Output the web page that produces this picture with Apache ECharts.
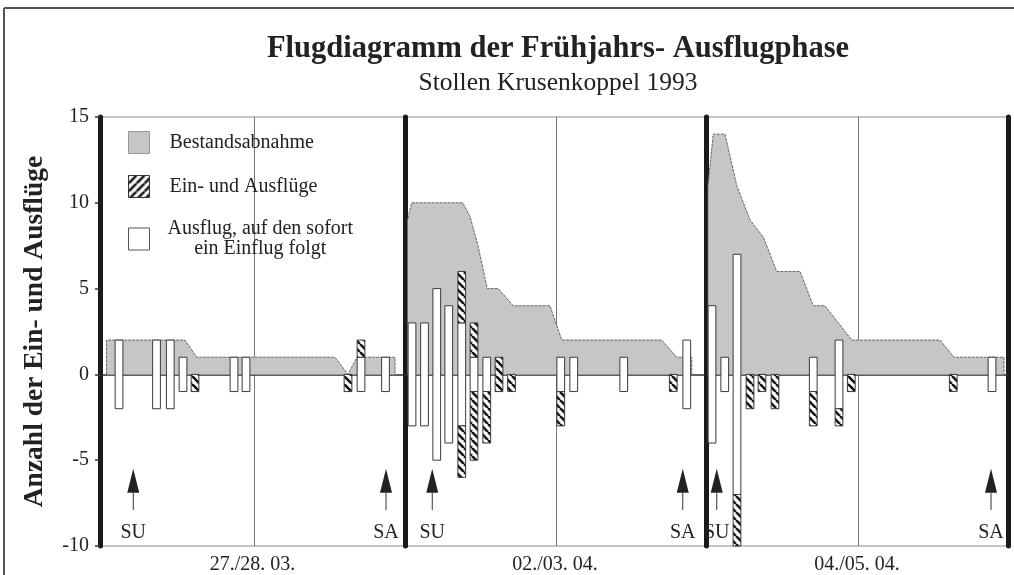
<!DOCTYPE html>
<html><head><meta charset="utf-8">
<script src="https://cdn.jsdelivr.net/npm/echarts@6/dist/echarts.min.js"></script>
<style>html,body{margin:0;padding:0;background:#fff}#c{width:1014px;height:575px}</style>
</head><body><div id="c"></div>
<script>
// ---- DATA (x = hours relative to midnight, y = number of bats) ----
const panelDates = ['27./28. 03.', '02./03. 04.', '04./05. 04.'];
const seriesNames = ['Bestandsabnahme', 'Ein- und Ausflüge', 'Ausflug, auf den sofort\nein Einflug folgt'];

// Bestandsabnahme (stock outline) per night
const stock1 = [[-5.9,0],[-5.9,2],[-2.76,2],[-2.29,1],[3.24,1],[3.76,0],[4.12,1],[5.64,1],[5.64,0]];
const stock2 = [[-5.94,0],[-5.94,9],[-5.77,10],[-3.73,10],[-3.44,9.2],[-3.12,7.5],[-2.75,5],[-2.31,5],[-1.71,4],[-0.24,4],[0.23,2],[4.23,2],[4.83,1],[5.43,1],[5.43,0]];
const stock3 = [[-6.0,0],[-6.0,11],[-5.79,14],[-5.32,14],[-4.85,11],[-4.32,9],[-3.79,8],[-3.25,6],[-2.32,6],[-1.79,4],[-1.32,4],[-0.25,2],[3.28,2],[3.84,1],[5.84,1],[5.84,0]];

// White bars: [hour, from, to]  (Ausflug, auf den sofort ein Einflug folgt)
const white1 = [[-5.4,-2,2],[-3.9,-2,2],[-3.35,-2,2],[-2.84,-1,1],[-0.8,-1,1],[-0.32,-1,1],[4.28,-1,1],[5.26,-1,1]];
const white2 = [[-5.76,-3,3],[-5.26,-3,3],[-4.77,-5,5],[-4.29,-4,4],[-3.77,-3,3],[-3.28,-1,1],[-2.77,-1,1],[0.19,-1,1],[0.71,-1,1],[2.71,-1,1],[5.23,-2,2]];
const white3 = [[-5.84,-4,4],[-5.33,-1,1],[-4.84,-7,7],[-1.79,-1,1],[-0.76,-2,2],[5.36,-1,1]];

// Hatched bars: [hour, from, to]  (Ein- und Ausflüge)
const hatch1 = [[-2.36,-1,0],[3.76,-1,0],[4.28,1,2]];
const hatch2 = [[-3.77,3,6],[-3.77,-6,-3],[-3.28,1,3],[-3.28,-5,-1],[-2.77,-4,-1],[-2.28,-1,1],[-1.78,-1,0],[0.19,-3,-1],[4.69,-1,0]];
const hatch3 = [[-4.84,-10,-7],[-4.32,-2,0],[-3.84,-1,0],[-3.32,-2,0],[-1.79,-3,-1],[-0.76,-3,-2],[-0.27,-1,0],[3.81,-1,0]];

// Sunset / sunrise arrows: [hour]
const sun1 = [[-4.83],[5.28]];
const sun2 = [[-4.95],[5.07]];
const sun3 = [[-5.65],[5.32]];
const sunLabels = ['SU', 'SA'];

const yMin = -10, yMax = 15, yStep = 5;

// ---- STYLE ----
const SERIF = '"Liberation Serif", "DejaVu Serif", serif';
const INK = '#222';
const GRAY = '#c6c6c6';
const BAR_W = 0.31;

function makeHatch(forward) {
  const s = 8, c = document.createElement('canvas');
  c.width = s; c.height = s;
  const g = c.getContext('2d');
  g.fillStyle = '#fff'; g.fillRect(0, 0, s, s);
  g.strokeStyle = '#151515'; g.lineWidth = 2.6;
  for (let k = -1; k <= 1; k++) {
    g.beginPath();
    if (forward) { g.moveTo(k * s, s); g.lineTo(k * s + s, 0); }
    else { g.moveTo(k * s, 0); g.lineTo(k * s + s, s); }
    g.stroke();
  }
  return c;
}
const hatchFill = { image: makeHatch(false), repeat: 'repeat' };
const hatchLegend = { image: makeHatch(true), repeat: 'repeat' };

const chart = echarts.init(document.getElementById('c'), null, { renderer: 'canvas' });

const grids = [
  { left: 100, width: 305, min: -6.16, max: 6.04 },
  { left: 405, width: 300, min: -6.04, max: 5.96 },
  { left: 706, width: 302, min: -6.08, max: 6.0 }
];
const stocks = [stock1, stock2, stock3];
const whites = [white1, white2, white3];
const hatches = [hatch1, hatch2, hatch3];
const suns = [sun1, sun2, sun3];

function barRender(fill) {
  return function (params, api) {
    const x = api.value(0), y0 = api.value(1), y1 = api.value(2);
    const top = api.coord([x, Math.max(y0, y1)]);
    const bot = api.coord([x, Math.min(y0, y1)]);
    const w = api.size([BAR_W, 0])[0];
    return {
      type: 'rect',
      shape: { x: top[0] - w / 2, y: top[1], width: w, height: bot[1] - top[1] },
      style: { fill: fill, stroke: '#3a3a3a', lineWidth: 1 }
    };
  };
}
function arrowRender(params, api) {
  const x = api.value(0);
  const tip = api.coord([x, -5.5]);
  const base = api.coord([x, -6.9]);
  const tail = api.coord([x, -7.9]);
  const txt = api.coord([x, -9.25]);
  return {
    type: 'group',
    children: [
      { type: 'line', shape: { x1: tip[0], y1: base[1], x2: tip[0], y2: tail[1] }, style: { stroke: '#333', lineWidth: 1 } },
      { type: 'polygon', shape: { points: [[tip[0], tip[1]], [tip[0] - 6, base[1]], [tip[0] + 6, base[1]]] }, style: { fill: INK } },
      { type: 'text', x: txt[0], y: txt[1], style: { text: sunLabels[params.dataIndex], fontSize: 20, fontFamily: SERIF, fill: INK, align: 'center', verticalAlign: 'middle' } }
    ]
  };
}

const option = {
  backgroundColor: '#fff',
  animation: false,
  title: {
    text: 'Flugdiagramm der Frühjahrs- Ausflugphase',
    subtext: 'Stollen Krusenkoppel 1993',
    left: 553, top: 29, textAlign: 'center', itemGap: 5,
    textStyle: { fontFamily: SERIF, fontWeight: 'bold', fontSize: 30.5, color: INK },
    subtextStyle: { fontFamily: SERIF, fontSize: 25.5, color: INK }
  },
  legend: {
    orient: 'vertical', left: 128, top: 131, itemWidth: 21, itemHeight: 22, itemGap: 21, padding: 0,
    data: [
      { name: seriesNames[0], icon: 'rect', itemStyle: { color: GRAY, borderColor: '#999', borderWidth: 1 } },
      { name: seriesNames[1], icon: 'rect', itemStyle: { color: hatchLegend, borderColor: '#333', borderWidth: 1 } },
      { name: seriesNames[2], icon: 'rect', itemStyle: { color: '#fff', borderColor: '#555', borderWidth: 1 } }
    ],
    formatter: function (name) {
      const lines = name.split('\n');
      if (lines.length > 1) return lines.map(l => '{c|' + l + '}').join('\n');
      return '{t|' + name + '}';
    },
    textStyle: {
      fontFamily: SERIF, fontSize: 20, color: INK, lineHeight: 20,
      rich: {
        t: { fontFamily: SERIF, fontSize: 20, color: INK, padding: [0, 0, 0, 15], lineHeight: 20 },
        c: { fontFamily: SERIF, fontSize: 20, color: INK, padding: [0, 0, 0, 13], lineHeight: 20, align: 'center' }
      }
    },
    selectedMode: false
  },
  graphic: [
    { type: 'line', shape: { x1: 4, y1: 8, x2: 1014, y2: 8 }, style: { stroke: '#555', lineWidth: 2 } },
    { type: 'line', shape: { x1: 4, y1: 8, x2: 4, y2: 575 }, style: { stroke: '#555', lineWidth: 2 } }
  ],
  grid: grids.map(g => ({ left: g.left, top: 117, width: g.width, height: 429, show: true, borderColor: '#8a8a8a', borderWidth: 1, backgroundColor: 'transparent', containLabel: false, outerBoundsMode: 'none' })),
  xAxis: grids.map((g, i) => ({
    type: 'value', gridIndex: i, min: g.min, max: g.max,
    axisLine: { show: false }, axisTick: { show: false }, axisLabel: { show: false }, splitLine: { show: false },
    name: panelDates[i], nameLocation: 'middle', nameGap: 9,
    nameTextStyle: { fontFamily: SERIF, fontSize: 20, color: INK }
  })),
  yAxis: grids.map((g, i) => ({
    type: 'value', gridIndex: i, min: yMin, max: yMax, interval: yStep,
    axisLine: { show: true, onZero: false, lineStyle: { color: '#1a1a1a', width: 5 } },
    axisTick: { show: i === 0, length: 5, lineStyle: { color: '#333', width: 1.5 } },
    axisLabel: { show: i === 0, fontFamily: SERIF, fontSize: 20, color: INK, margin: 11 },
    splitLine: { show: false },
    name: i === 0 ? 'Anzahl der Ein- und Ausflüge' : '',
    nameLocation: 'middle', nameGap: 51, nameRotate: 90,
    nameTextStyle: { fontFamily: SERIF, fontSize: 27.5, fontWeight: 'bold', color: INK }
  })).concat([{
    type: 'value', gridIndex: 2, min: yMin, max: yMax, interval: yStep, position: 'right',
    axisLine: { show: true, onZero: false, lineStyle: { color: '#1a1a1a', width: 5 } },
    axisTick: { show: false }, axisLabel: { show: false }, splitLine: { show: false }
  }]),
  series: []
};

for (let i = 0; i < 3; i++) {
  option.series.push({
    name: seriesNames[0], type: 'line', xAxisIndex: i, yAxisIndex: i, data: stocks[i],
    symbol: 'none', z: 2,
    lineStyle: { color: '#666', width: 1, type: [3, 1] },
    areaStyle: { color: GRAY, opacity: 1 },
    markLine: {
      silent: true, symbol: 'none', label: { show: false }, z: 2,
      data: [
        { xAxis: 0, lineStyle: { color: '#777', width: 1, type: 'solid' } },
        { yAxis: 0, lineStyle: { color: '#2a2a2a', width: 1.5, type: 'solid' } }
      ]
    }
  });
  option.series.push({
    name: seriesNames[2], type: 'custom', xAxisIndex: i, yAxisIndex: i, z: 3,
    itemStyle: { color: '#fff', borderColor: '#555' },
    encode: { x: 0, y: [1, 2] }, data: whites[i], renderItem: barRender('#fff')
  });
  option.series.push({
    name: seriesNames[1], type: 'custom', xAxisIndex: i, yAxisIndex: i, z: 4,
    itemStyle: { color: hatchFill, borderColor: '#333' },
    encode: { x: 0, y: [1, 2] }, data: hatches[i], renderItem: barRender(hatchFill)
  });
  option.series.push({
    name: 'SU/SA', type: 'custom', xAxisIndex: i, yAxisIndex: i, z: 5, silent: true,
    encode: { x: 0 }, data: suns[i].map(s => [s[0], -6]), renderItem: arrowRender
  });
}

chart.setOption(option);
</script>
</body></html>
